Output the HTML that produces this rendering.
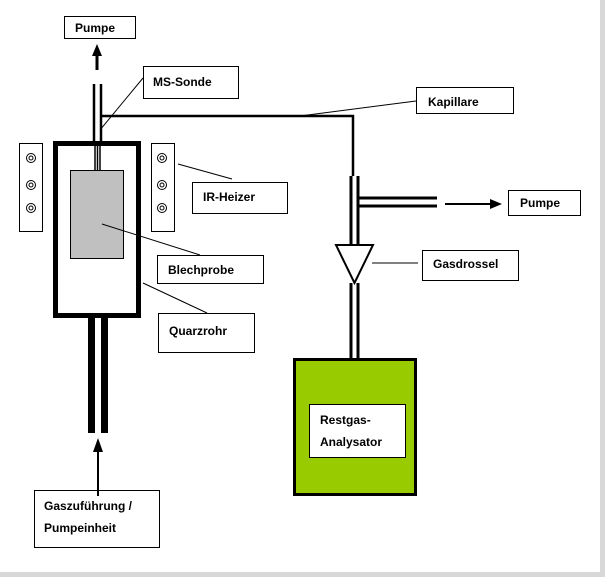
<!DOCTYPE html>
<html><head><style>
body{margin:0;background:#fff;}
svg{display:block;}
text{font-family:"Liberation Sans",sans-serif;font-weight:bold;font-size:12px;fill:#000;}
</style></head><body>
<svg width="605" height="577" viewBox="0 0 605 577">
<rect x="0" y="0" width="605" height="577" fill="#fff"/>
<rect x="600" y="0" width="5" height="577" fill="#d8d8d8"/>
<rect x="0" y="572" width="605" height="5" fill="#d8d8d8"/>
<g stroke="#000" fill="#fff" stroke-width="1">
<rect x="64.5" y="16.5" width="71" height="22"/>
<rect x="143.5" y="66.5" width="95" height="32"/>
<rect x="416.5" y="87.5" width="97" height="26"/>
<rect x="192.5" y="182.5" width="95" height="31"/>
<rect x="157.5" y="255.5" width="106" height="28"/>
<rect x="158.5" y="313.5" width="96" height="39"/>
<rect x="34.5" y="490.5" width="125" height="57"/>
<rect x="508.5" y="190.5" width="72" height="25"/>
<rect x="422.5" y="250.5" width="96" height="30"/>
<rect x="19.5" y="143.5" width="23" height="88"/>
<rect x="151.5" y="143.5" width="23" height="88"/>
</g>
<g fill="none" stroke="#000" stroke-width="1">
<circle cx="31" cy="158" r="4.5"/><circle cx="31" cy="158" r="2"/>
<circle cx="31" cy="185" r="4.5"/><circle cx="31" cy="185" r="2"/>
<circle cx="31" cy="208" r="4.5"/><circle cx="31" cy="208" r="2"/>
<circle cx="162" cy="158" r="4.5"/><circle cx="162" cy="158" r="2"/>
<circle cx="162" cy="185" r="4.5"/><circle cx="162" cy="185" r="2"/>
<circle cx="162" cy="208" r="4.5"/><circle cx="162" cy="208" r="2"/>
</g>
<!-- quartz -->
<rect x="55.5" y="143.5" width="83" height="172" fill="none" stroke="#000" stroke-width="5"/>
<rect x="70.5" y="170.5" width="53" height="88" fill="#c0c0c0" stroke="#000" stroke-width="1"/>
<!-- top pipes -->
<g stroke="#000" stroke-width="2.5">
<line x1="94" y1="84" x2="94" y2="141"/>
<line x1="101" y1="84" x2="101" y2="141"/>
</g>
<g stroke="#000" stroke-width="1.5">
<line x1="95" y1="141" x2="95" y2="170"/>
<line x1="100" y1="141" x2="100" y2="170"/>
<line x1="97.5" y1="141" x2="97.5" y2="170"/>
</g>
<line x1="97" y1="70" x2="97" y2="56" stroke="#000" stroke-width="3"/>
<polygon points="92,56 102,56 97,44" fill="#000"/>
<!-- capillary -->
<polyline points="100,116 353,116 353,176" fill="none" stroke="#000" stroke-width="2.5"/>
<!-- lower pipes -->
<rect x="88" y="318" width="7" height="115" fill="#000"/>
<rect x="101" y="318" width="7" height="115" fill="#000"/>
<line x1="98" y1="496" x2="98" y2="450" stroke="#000" stroke-width="2"/>
<polygon points="93,452 103,452 98,438" fill="#000"/>
<!-- right pipe -->
<g stroke="#000" stroke-width="3">
<line x1="351" y1="176" x2="351" y2="246"/>
<line x1="358" y1="176" x2="358" y2="246"/>
<line x1="358" y1="198" x2="437" y2="198"/>
<line x1="358" y1="206" x2="437" y2="206"/>
<line x1="351" y1="283" x2="351" y2="360"/>
<line x1="358" y1="283" x2="358" y2="360"/>
</g>
<line x1="445" y1="204" x2="492" y2="204" stroke="#000" stroke-width="2"/>
<polygon points="490,199 502,204 490,209" fill="#000"/>
<polygon points="336,245 373,245 354.5,283" fill="#fff" stroke="#000" stroke-width="2"/>
<!-- analyzer -->
<rect x="294.5" y="359.5" width="121" height="135" fill="#99cc00" stroke="#000" stroke-width="3"/>
<rect x="309.5" y="404.5" width="96" height="53" fill="#fff" stroke="#000" stroke-width="1"/>
<!-- leader lines -->
<g stroke="#000" stroke-width="1">
<line x1="143" y1="78" x2="100" y2="130"/>
<line x1="416" y1="101" x2="300" y2="116"/>
<line x1="178" y1="164" x2="232" y2="179"/>
<line x1="102" y1="224" x2="200" y2="255"/>
<line x1="143" y1="283" x2="207" y2="313"/>
<line x1="372" y1="263" x2="418" y2="263"/>
</g>
<text x="75" y="32">Pumpe</text>
<text x="153" y="86">MS-Sonde</text>
<text x="428" y="106">Kapillare</text>
<text x="203" y="201">IR-Heizer</text>
<text x="168" y="274">Blechprobe</text>
<text x="169" y="335">Quarzrohr</text>
<text x="44" y="510">Gaszuführung /</text>
<text x="44" y="532">Pumpeinheit</text>
<text x="520" y="207">Pumpe</text>
<text x="433" y="268">Gasdrossel</text>
<text x="320" y="424">Restgas-</text>
<text x="320" y="446">Analysator</text>
</svg>
</body></html>
